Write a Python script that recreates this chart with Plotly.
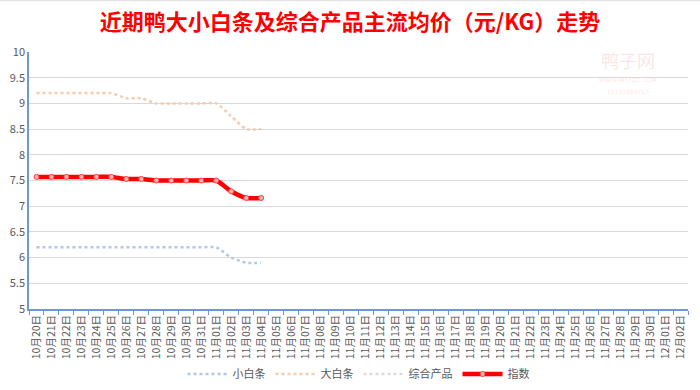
import plotly.graph_objects as go

dates = (["10月%02d日" % d for d in range(20, 32)] +
         ["11月%02d日" % d for d in range(1, 31)] +
         ["12月%02d日" % d for d in range(1, 3)])

xiao_bai_tiao = [6.2, 6.2, 6.2, 6.2, 6.2, 6.2, 6.2, 6.2, 6.2, 6.2, 6.2, 6.2, 6.2, 6.0, 5.9, 5.9]
da_bai_tiao = [9.2, 9.2, 9.2, 9.2, 9.2, 9.2, 9.1, 9.1, 9.0, 9.0, 9.0, 9.0, 9.0, 8.75, 8.5, 8.5]
zong_he = [7.57, 7.57, 7.57, 7.57, 7.57, 7.57, 7.53, 7.53, 7.5, 7.5, 7.5, 7.5, 7.5, 7.29, 7.16, 7.16]
zhi_shu = [7.57, 7.57, 7.57, 7.57, 7.57, 7.57, 7.53, 7.53, 7.5, 7.5, 7.5, 7.5, 7.5, 7.29, 7.16, 7.16]

font = "Noto Sans CJK SC"
fig = go.Figure()
fig.add_trace(go.Scatter(x=dates[:len(xiao_bai_tiao)], y=xiao_bai_tiao, name="小白条", mode="lines",
                         line=dict(color="#b4c7e7", width=2.5, dash="dot", shape="spline", smoothing=0.6)))
fig.add_trace(go.Scatter(x=dates[:len(da_bai_tiao)], y=da_bai_tiao, name="大白条", mode="lines",
                         line=dict(color="#f8cbad", width=2.5, dash="dot", shape="spline", smoothing=0.6)))
fig.add_trace(go.Scatter(x=dates[:len(zong_he)], y=zong_he, name="综合产品", mode="lines",
                         line=dict(color="#dbdbdb", width=2.5, dash="dot", shape="spline", smoothing=0.6)))
fig.add_trace(go.Scatter(x=dates[:len(zhi_shu)], y=zhi_shu, name="指数", mode="lines+markers",
                         line=dict(color="#ff0000", width=4.5, shape="spline", smoothing=0.6),
                         marker=dict(symbol="circle", size=5, color="#ffb3b3",
                                     line=dict(color="#ff4040", width=1))))

fig.update_layout(
    width=700, height=390,
    margin=dict(l=29, r=12, t=52, b=81, autoexpand=False),
    paper_bgcolor="white", plot_bgcolor="white",
    font=dict(family=font, color="#595959"),
    title=dict(text="<b>近期鸭大小白条及综合产品主流均价（元/KG）走势</b>", x=0.5, xanchor="center",
               y=0.942, yanchor="middle", font=dict(family=font, size=22, color="#ff0000")),
    showlegend=True,
    legend=dict(orientation="h", x=0.5, xanchor="center", yref="container", y=0.041, yanchor="middle",
                font=dict(family=font, size=11, color="#595959"), itemwidth=40,
                bgcolor="rgba(0,0,0,0)"),
    xaxis=dict(type="category", categoryorder="array", categoryarray=dates,
               range=[-0.5, len(dates) - 0.5], tickangle=-90, tickson="boundaries",
               ticks="outside", ticklen=4, tickcolor="#6f97d6",
               showline=True, linecolor="#6f97d6", linewidth=1.5,
               showgrid=False, tickfont=dict(family=font, size=10.5, color="#595959")),
    yaxis=dict(range=[5, 10], dtick=0.5, showgrid=True, gridcolor="#d9d9d9", gridwidth=1,
               showline=True, linecolor="#6f97d6", linewidth=1.5, ticks="",
               tickfont=dict(family=font, size=11, color="#595959"), zeroline=False,
               tickformat="~g"),
)

# watermark
wm = "rgba(240,150,150,0.25)"
fig.add_annotation(text="鸭子网", xref="paper", yref="paper", x=0.909, y=0.967, xanchor="center",
                   yanchor="middle", showarrow=False, borderpad=0,
                   font=dict(family=font, size=18, color=wm))
fig.add_annotation(text="WWW.INTEDC.COM", xref="paper", yref="paper", x=0.909, y=0.893, xanchor="center",
                   yanchor="middle", showarrow=False, borderpad=0,
                   font=dict(family="DejaVu Sans", size=6, color=wm))
fig.add_annotation(text="15131069765", xref="paper", yref="paper", x=0.909, y=0.848, xanchor="center",
                   yanchor="middle", showarrow=False, borderpad=0,
                   font=dict(family="DejaVu Sans", size=6, color=wm))
fig.add_shape(type="line", xref="paper", yref="paper", x0=-0.05, x1=1.02, y0=1.2, y1=1.2,
              line=dict(color="#e0e0e0", width=1))

fig.write_html("out.html", config={"displayModeBar": False},
               post_script="document.body.style.margin='0px';")
